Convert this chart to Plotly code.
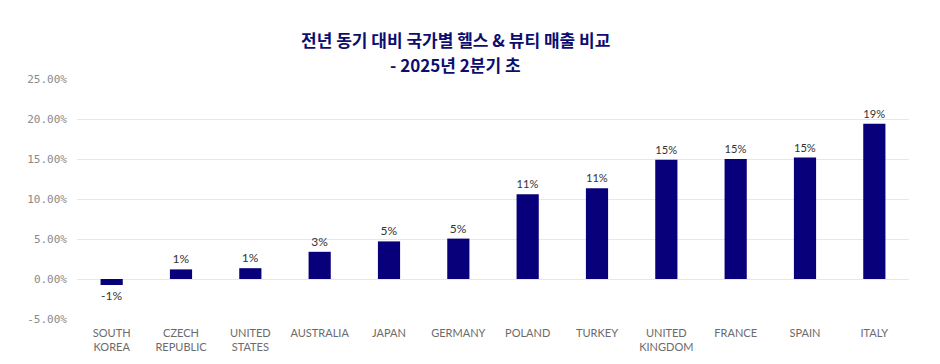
import plotly.graph_objects as go

countries = ["SOUTH<br>KOREA", "CZECH<br>REPUBLIC", "UNITED<br>STATES", "AUSTRALIA", "JAPAN",
             "GERMANY", "POLAND", "TURKEY", "UNITED<br>KINGDOM", "FRANCE", "SPAIN", "ITALY"]
growth = [-0.75, 1.2, 1.35, 3.4, 4.7, 5.05, 10.6, 11.35, 14.9, 15.0, 15.2, 19.4]
labels = ["-1%", "1%", "1%", "3%", "5%", "5%", "11%", "11%", "15%", "15%", "15%", "19%"]
y_ticks = [-5, 0, 5, 10, 15, 20, 25]
y_tick_text = ["-5.00%", "0.00%", "5.00%", "10.00%", "15.00%", "20.00%", "25.00%"]

title_line1 = "전년 동기 대비 국가별 헬스 & 뷰티 매출 비교"
title_line2 = "- 2025년 2분기 초"

fig = go.Figure(go.Bar(
    x=countries, y=growth, text=labels, textposition="outside",
    marker=dict(color="#08007a", line=dict(width=0)),
    textfont=dict(family="Lato, sans-serif", size=12, color="#333333"),
    cliponaxis=False,
))

title_font = dict(family="Noto Sans CJK KR", size=17, color="#0d0d70", weight="bold")

# page body has an 8px default margin, so the figure is sized to fit inside the window
fig.update_layout(
    width=932, height=356,
    margin=dict(l=69, r=31, t=71, b=45, autoexpand=False),
    paper_bgcolor="white", plot_bgcolor="white",
    bargap=0.68,
    showlegend=False,
    annotations=[
        dict(text=title_line1, x=0.4555, y=1.1625, xref="paper", yref="paper",
             xanchor="center", yanchor="middle", showarrow=False, font=title_font),
        dict(text=title_line2, x=0.4555, y=1.0625, xref="paper", yref="paper",
             xanchor="center", yanchor="middle", showarrow=False, font=title_font),
    ],
)
fig.update_xaxes(
    showgrid=False, zeroline=False, showline=False, automargin=False,
    tickfont=dict(family="Lato, sans-serif", size=11, color="#6b6b6b"),
    ticklabelstandoff=6,
)
fig.update_yaxes(
    range=[-5, 25], tickvals=y_ticks, ticktext=y_tick_text, automargin=False,
    showgrid=True, gridcolor="#e8e8e8", gridwidth=1,
    zeroline=True, zerolinecolor="#e8e8e8", zerolinewidth=1,
    tickfont=dict(family="DejaVu Sans Mono, monospace", size=11, color="#8a8a8a"),
    ticklabelstandoff=9,
)

fig.write_html("out.html")
